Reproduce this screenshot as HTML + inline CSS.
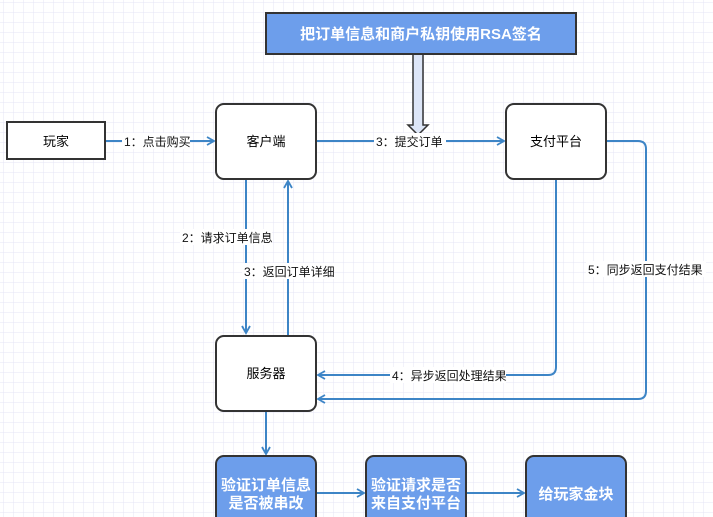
<!DOCTYPE html>
<html><head><meta charset="utf-8"><style>
html,body{margin:0;padding:0;background:#fff;}
svg{display:block;}
text{font-family:"Liberation Sans","Noto Sans CJK SC",sans-serif;}
</style></head><body>
<svg width="713" height="517" viewBox="0 0 713 517" xmlns="http://www.w3.org/2000/svg">
<defs>
<pattern id="g" width="10" height="10" patternUnits="userSpaceOnUse" x="4" y="3">
<path d="M10 0V10M0 10H10" fill="none" stroke="#e4e4f6" stroke-width="1"/>
</pattern>
<marker id="a" markerWidth="10" markerHeight="10" refX="8" refY="5" orient="auto" markerUnits="userSpaceOnUse">
<path d="M1 1L8 5L1 9" fill="none" stroke="#3d85c6" stroke-width="1.8"/>
</marker>
</defs>
<rect width="713" height="517" fill="#fff"/>
<rect width="713" height="517" fill="url(#g)"/>

<g fill="none" stroke="#3d85c6" stroke-width="2">
<path d="M105 141H214" marker-end="url(#a)"/>
<path d="M316 141H504" marker-end="url(#a)"/>
<path d="M246 179V333" marker-end="url(#a)"/>
<path d="M288 335V181" marker-end="url(#a)"/>
<path d="M556 179V367Q556 375 548 375H318" marker-end="url(#a)"/>
<path d="M606 141H638Q646 141 646 149V391Q646 399 638 399H318" marker-end="url(#a)"/>
<path d="M266 411V454" marker-end="url(#a)"/>
<path d="M316 493H364" marker-end="url(#a)"/>
<path d="M466 493H524" marker-end="url(#a)"/>
</g>

<!-- double arrow -->
<path d="M413 54V125H408L418 135L428 125H423V54Z" fill="#dde6f7" stroke="#333" stroke-width="1.5"/>

<!-- label backgrounds -->
<g fill="#fff">
<rect x="122" y="133" width="68" height="16"/>
<rect x="374" y="133" width="72" height="16"/>
<rect x="180" y="229" width="92" height="16"/>
<rect x="242" y="263" width="92" height="16"/>
<rect x="390" y="367" width="116" height="16"/>
<rect x="586" y="261" width="120" height="16"/>
</g>
<g font-size="12" fill="#111">
<text x="124" y="146">1：点击购买</text>
<text x="376" y="146">3：提交订单</text>
<text x="182" y="242">2：请求订单信息</text>
<text x="244" y="276">3：返回订单详细</text>
<text x="392" y="380">4：异步返回处理结果</text>
<text x="588" y="274">5：同步返回支付结果</text>
</g>

<rect x="7" y="122" width="98" height="37" fill="#fff" stroke="#333" stroke-width="2"/>
<text x="56" y="146" font-size="13" text-anchor="middle">玩家</text>
<rect x="216" y="104" width="100" height="75" rx="8" fill="#fff" stroke="#333" stroke-width="2"/>
<text x="266" y="146" font-size="13" text-anchor="middle">客户端</text>
<rect x="506" y="104" width="100" height="75" rx="8" fill="#fff" stroke="#333" stroke-width="2"/>
<text x="556" y="146" font-size="13" text-anchor="middle">支付平台</text>
<rect x="216" y="336" width="100" height="75" rx="8" fill="#fff" stroke="#333" stroke-width="2"/>
<text x="266" y="378" font-size="13" text-anchor="middle">服务器</text>

<rect x="266" y="13" width="310" height="41" fill="#6d9eeb" stroke="#333" stroke-width="2"/>
<text x="421" y="39" font-size="15" font-weight="bold" fill="#fff" text-anchor="middle">把订单信息和商户私钥使用RSA签名</text>

<rect x="216" y="456" width="100" height="75" rx="8" fill="#6d9eeb" stroke="#333" stroke-width="2"/>
<text x="266" y="490" font-size="15" font-weight="bold" fill="#fff" text-anchor="middle">验证订单信息</text>
<text x="266" y="508" font-size="15" font-weight="bold" fill="#fff" text-anchor="middle">是否被串改</text>
<rect x="366" y="456" width="100" height="75" rx="8" fill="#6d9eeb" stroke="#333" stroke-width="2"/>
<text x="416" y="490" font-size="15" font-weight="bold" fill="#fff" text-anchor="middle">验证请求是否</text>
<text x="416" y="508" font-size="15" font-weight="bold" fill="#fff" text-anchor="middle">来自支付平台</text>
<rect x="526" y="456" width="100" height="75" rx="8" fill="#6d9eeb" stroke="#333" stroke-width="2"/>
<text x="576" y="499" font-size="15" font-weight="bold" fill="#fff" text-anchor="middle">给玩家金块</text>
</svg>
</body></html>
